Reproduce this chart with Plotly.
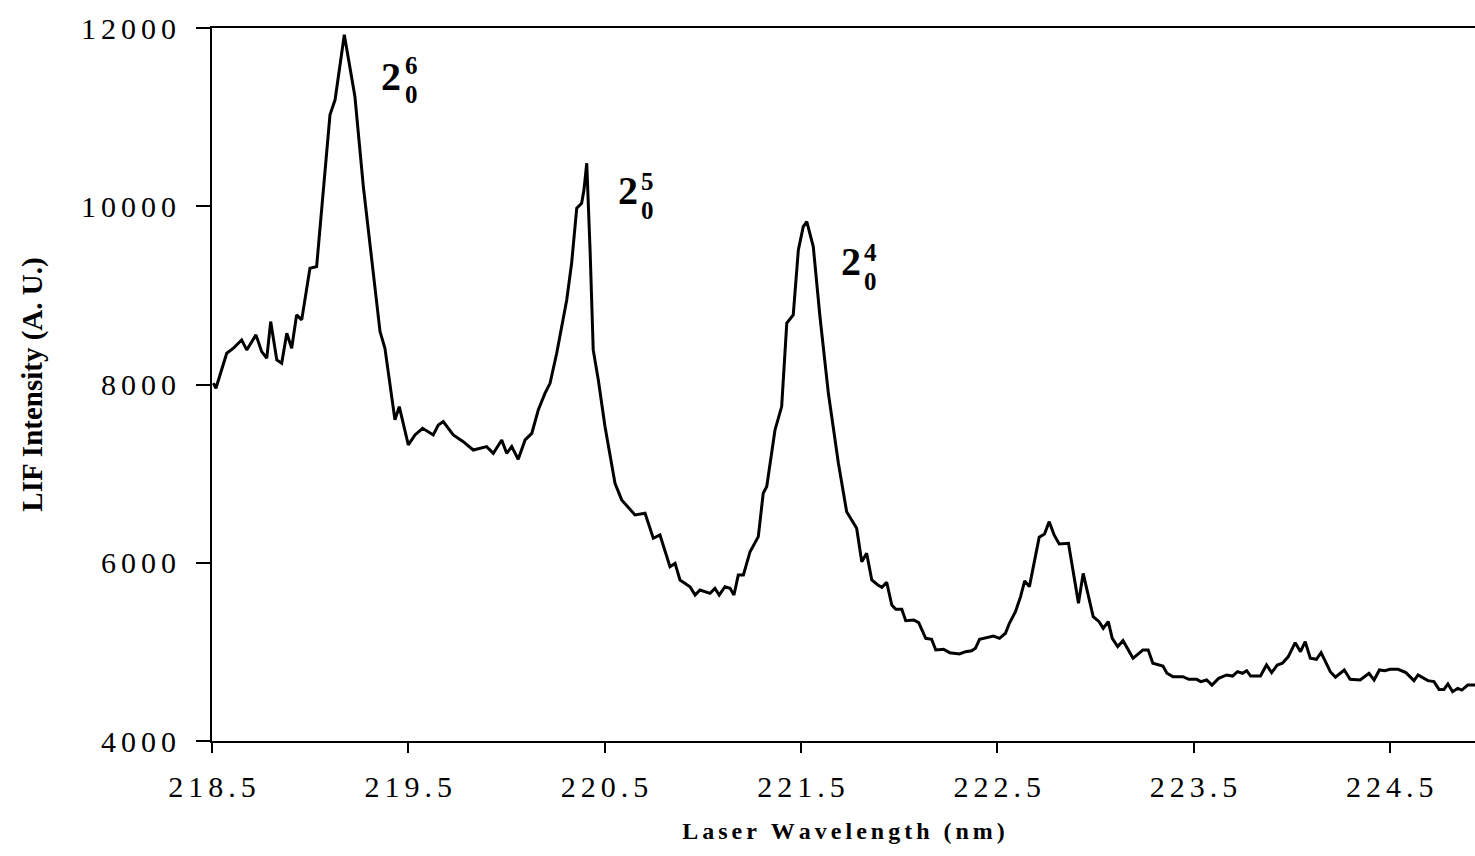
import plotly.graph_objects as go

# LIF spectrum
wavelength_nm = [
    218.507, 218.520, 218.575, 218.609, 218.651, 218.677, 218.724, 218.753, 218.779, 218.799,
    218.830, 218.855, 218.881, 218.906, 218.931, 218.957, 218.999, 219.033, 219.101, 219.127,
    219.174, 219.228, 219.271, 219.314, 219.356, 219.381, 219.432, 219.454, 219.500, 219.534,
    219.573, 219.627, 219.653, 219.678, 219.729, 219.780, 219.831, 219.899, 219.933, 219.976,
    220.001, 220.027, 220.060, 220.095, 220.129, 220.162, 220.196, 220.222, 220.256, 220.307,
    220.332, 220.358, 220.383, 220.395, 220.409, 220.426, 220.442, 220.468, 220.502, 220.553,
    220.587, 220.655, 220.706, 220.748, 220.782, 220.833, 220.859, 220.884, 220.935, 220.961,
    220.986, 221.037, 221.062, 221.084, 221.113, 221.139, 221.159, 221.181, 221.207, 221.241,
    221.283, 221.308, 221.326, 221.368, 221.402, 221.428, 221.461, 221.487, 221.512, 221.530,
    221.563, 221.597, 221.640, 221.691, 221.733, 221.784, 221.810, 221.835, 221.861, 221.892,
    221.913, 221.937, 221.963, 221.983, 222.014, 222.034, 222.075, 222.100, 222.136, 222.166,
    222.187, 222.227, 222.258, 222.308, 222.339, 222.370, 222.389, 222.410, 222.451, 222.481,
    222.512, 222.542, 222.562, 222.593, 222.619, 222.640, 222.664, 222.688, 222.714, 222.741,
    222.765, 222.790, 222.816, 222.863, 222.887, 222.914, 222.938, 222.964, 222.989, 223.019,
    223.040, 223.066, 223.086, 223.114, 223.141, 223.192, 223.242, 223.269, 223.293, 223.344,
    223.365, 223.395, 223.446, 223.476, 223.516, 223.537, 223.567, 223.594, 223.628, 223.669,
    223.699, 223.724, 223.750, 223.771, 223.791, 223.821, 223.841, 223.872, 223.898, 223.927,
    223.953, 223.983, 224.018, 224.045, 224.069, 224.095, 224.126, 224.150, 224.197, 224.223,
    224.268, 224.298, 224.349, 224.394, 224.420, 224.447, 224.475, 224.501, 224.542, 224.582,
    224.623, 224.644, 224.694, 224.725, 224.751, 224.776, 224.796, 224.820, 224.846, 224.867,
    224.897, 224.934,
]
lif_intensity = [
    8015, 7958, 8351, 8407, 8500, 8388, 8557, 8369, 8295, 8706,
    8276, 8239, 8575, 8407, 8781, 8725, 9305, 9323, 11026, 11194,
    11924, 11231, 10220, 9360, 8594, 8407, 7603, 7752, 7322, 7434,
    7509, 7434, 7546, 7584, 7434, 7359, 7265, 7303, 7228, 7378,
    7228, 7303, 7160, 7378, 7452, 7714, 7901, 8013, 8350, 8949,
    9360, 9978, 10034, 10184, 10483, 9510, 8388, 8051, 7528, 6891,
    6705, 6536, 6555, 6275, 6312, 5956, 5993, 5807, 5731, 5638,
    5694, 5657, 5713, 5638, 5731, 5713, 5638, 5863, 5863, 6124,
    6293, 6780, 6855, 7490, 7752, 8688, 8781, 9510, 9772, 9828,
    9548, 8763, 7901, 7116, 6573, 6386, 6012, 6106, 5807, 5751,
    5725, 5781, 5526, 5478, 5478, 5350, 5358, 5328, 5152, 5141,
    5021, 5029, 4991, 4976, 5002, 5013, 5040, 5141, 5164, 5178,
    5152, 5209, 5321, 5451, 5620, 5796, 5732, 5994, 6286, 6323,
    6461, 6312, 6211, 6218, 5919, 5545, 5881, 5620, 5395, 5339,
    5265, 5339, 5152, 5059, 5126, 4928, 5021, 5021, 4872, 4842,
    4760, 4722, 4722, 4692, 4692, 4666, 4685, 4628, 4703, 4741,
    4729, 4778, 4760, 4789, 4729, 4729, 4729, 4853, 4767, 4853,
    4872, 4947, 5103, 5002, 5115, 4928, 4917, 4991, 4778, 4715,
    4797, 4692, 4685, 4760, 4685, 4797, 4789, 4804, 4804, 4767,
    4677, 4741, 4677, 4666, 4579, 4579, 4640, 4553, 4591, 4572,
    4628, 4628,
]

x_tick_values = [218.5, 219.5, 220.5, 221.5, 222.5, 223.5, 224.5]
x_tick_labels = ["218.5", "219.5", "220.5", "221.5", "222.5", "223.5", "224.5"]
y_tick_values = [4000, 6000, 8000, 10000, 12000]
y_tick_labels = ["4000", "6000", "8000", "10000", "12000"]

# band labels: (base, superscript, subscript)
band_labels = [("2", "6", "0"), ("2", "5", "0"), ("2", "4", "0")]

FONT = "Liberation Serif, Times New Roman, serif"
TICK_GAP = "\u2006"
TITLE_GAP = "\u2006"

fig = go.Figure()
fig.add_trace(go.Scatter(
    x=wavelength_nm, y=lif_intensity, mode="lines",
    line=dict(color="black", width=3), showlegend=False, hoverinfo="x+y",
))

# label placement (data coordinates): base digit centre, stacked script column (x, split y)
base_pos = [(219.412, 11456), (220.617, 10178), (221.755, 9382)]
script_pos = [(219.514, 11418), (220.721, 10111), (221.857, 9314)]
for (b, sp, sb), bp, sc in zip(band_labels, base_pos, script_pos):
    fig.add_annotation(x=bp[0], y=bp[1], text=f"<b>{b}</b>", showarrow=False,
                       borderpad=0, font=dict(family=FONT, size=40, color="black"))
    fig.add_annotation(x=sc[0], y=sc[1], text=f"<b>{sp}</b>", showarrow=False,
                       yanchor="bottom", borderpad=0,
                       font=dict(family=FONT, size=25, color="black"))
    fig.add_annotation(x=sc[0], y=sc[1], text=f"<b>{sb}</b>", showarrow=False,
                       yanchor="top", borderpad=0,
                       font=dict(family=FONT, size=25, color="black"))

x_title = TITLE_GAP.join("Laser Wavelength (nm)")

fig.update_layout(
    width=1475, height=856,
    margin=dict(l=212, r=0, t=28, b=115),
    paper_bgcolor="white", plot_bgcolor="white",
    font=dict(family=FONT, color="black"),
    xaxis=dict(
        range=[218.5, 224.934], tickvals=x_tick_values,
        ticktext=[TICK_GAP.join(s) for s in x_tick_labels],
        ticks="outside", ticklen=10, tickwidth=1.5, tickcolor="black",
        showline=True, linecolor="black", linewidth=2, mirror=True,
        showgrid=False, zeroline=False,
        tickfont=dict(family=FONT, size=30, color="black"),
        ticklabelstandoff=8,
        title=dict(text=f"<b>{x_title}</b>", standoff=20,
                   font=dict(family=FONT, size=24, color="black")),
    ),
    yaxis=dict(
        range=[4000, 12000], tickvals=y_tick_values,
        ticktext=[TICK_GAP.join(s) for s in y_tick_labels],
        ticks="outside", ticklen=14, tickwidth=1.5, tickcolor="black",
        showline=True, linecolor="black", linewidth=2,
        showgrid=False, zeroline=False,
        tickfont=dict(family=FONT, size=30, color="black"),
        ticklabelstandoff=14,
        title=dict(text="<b>LIF Intensity (A. U.)</b>", standoff=30,
                   font=dict(family=FONT, size=29, color="black")),
    ),
)

fig.write_html("out.html")
